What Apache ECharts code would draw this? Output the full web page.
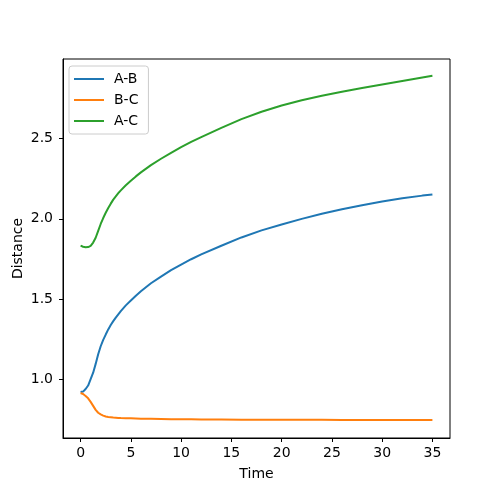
<!DOCTYPE html>
<html>
<head>
<meta charset="utf-8">
<script src="https://cdn.jsdelivr.net/npm/echarts@6/dist/echarts.min.js"></script>
<style>
  html, body { margin: 0; padding: 0; background: #fff; }
  #container { width: 500px; height: 492px; }
</style>
</head>
<body>
<div id="container"></div>
<script>
// 时间点和三条距离曲线
var time = [0, 0.25, 0.5, 0.75, 1, 1.25, 1.5, 1.75, 2, 2.25, 2.5, 2.75, 3, 3.25, 3.5, 3.75, 4,
            4.5, 5, 5.5, 6, 7, 8, 9, 10, 11, 12, 14, 16, 18, 20, 22, 24, 26, 28, 30, 32, 34, 35];
var distAB = [0.919, 0.922, 0.938, 0.96, 1.0, 1.04, 1.095, 1.155, 1.205, 1.245, 1.278, 1.31, 1.338, 1.362, 1.384, 1.404, 1.424,
              1.46, 1.49, 1.52, 1.548, 1.598, 1.64, 1.68, 1.715, 1.748, 1.778, 1.832, 1.884, 1.928, 1.965, 2.0, 2.032, 2.06, 2.085, 2.108, 2.128, 2.145, 2.152];
var distBC = [0.913, 0.907, 0.895, 0.88, 0.858, 0.833, 0.808, 0.79, 0.78, 0.772, 0.767, 0.764, 0.762, 0.76, 0.759, 0.758, 0.757,
              0.756, 0.755, 0.754, 0.753, 0.752, 0.751, 0.75, 0.749, 0.749, 0.748, 0.748, 0.747, 0.747, 0.746, 0.746, 0.746, 0.745, 0.745, 0.745, 0.745, 0.745, 0.745];
var distAC = [1.833, 1.826, 1.823, 1.824, 1.831, 1.852, 1.882, 1.925, 1.968, 2.005, 2.038, 2.068, 2.095, 2.12, 2.14, 2.16, 2.178,
              2.21, 2.238, 2.265, 2.29, 2.335, 2.375, 2.412, 2.447, 2.48, 2.51, 2.568, 2.622, 2.668, 2.707, 2.74, 2.768, 2.793, 2.816, 2.838, 2.86, 2.882, 2.893];
var seriesNames = ["A-B", "B-C", "A-C"];
var xTicks = [0, 5, 10, 15, 20, 25, 30, 35];
var yTicks = [1.0, 1.5, 2.0, 2.5];

function pairs(vals) {
    return time.map(function (t, i) { return [t, vals[i]]; });
}

var dom = document.getElementById("container");
var myChart = echarts.init(dom);
var font = "DejaVu Sans";
var colors = ["#1f77b4", "#ff7f0e", "#2ca02c"];
var allVals = [distAB, distBC, distAC];

var option = {
    animation: false,
    color: colors,
    textStyle: { fontFamily: font },
    grid: {
        left: 63, right: 50, top: 59, bottom: 54,
        show: true, borderColor: "#000", borderWidth: 1, backgroundColor: "transparent"
    },
    legend: {
        orient: "vertical",
        left: 69, top: 66,
        padding: [6, 10, 6, 5],
        itemGap: 7,
        itemWidth: 30,
        itemHeight: 2,
        icon: "rect",
        borderColor: "#ccc",
        borderWidth: 1,
        borderRadius: 3,
        textStyle: { fontFamily: font, fontSize: 14, color: "#000", padding: [0, 0, 0, 5] },
        data: seriesNames
    },
    xAxis: {
        type: "value",
        min: -1.75, max: 36.75,
        name: "Time",
        nameLocation: "middle",
        nameGap: 29,
        nameMoveOverlap: false,
        nameTextStyle: { fontFamily: font, fontSize: 14, color: "#000" },
        splitLine: { show: false },
        axisLine: { show: true, onZero: false, lineStyle: { color: "#000", width: 1 } },
        axisTick: { show: true, length: 4, inside: false, lineStyle: { color: "#000" }, customValues: xTicks },
        axisLabel: { color: "#000", fontSize: 14, margin: 8, fontFamily: font, customValues: xTicks }
    },
    yAxis: {
        type: "value",
        min: 0.6325, max: 2.9975,
        name: "Distance",
        nameLocation: "middle",
        nameGap: 38,
        nameMoveOverlap: false,
        nameTextStyle: { fontFamily: font, fontSize: 14, color: "#000" },
        splitLine: { show: false },
        axisLine: { show: true, onZero: false, lineStyle: { color: "#000", width: 1 } },
        axisTick: { show: true, length: 4, inside: false, lineStyle: { color: "#000" }, customValues: yTicks },
        axisLabel: {
            color: "#000", fontSize: 14, margin: 10, fontFamily: font, customValues: yTicks,
            formatter: function (v) { return v.toFixed(1); }
        }
    },
    series: seriesNames.map(function (n, i) {
        return {
            name: n,
            type: "line",
            data: pairs(allVals[i]),
            smooth: false,
            symbol: "none",
            lineStyle: { width: 2, color: colors[i] }
        };
    })
};

if (option && typeof option === "object") {
    myChart.setOption(option);
}
</script>
</body>
</html>
